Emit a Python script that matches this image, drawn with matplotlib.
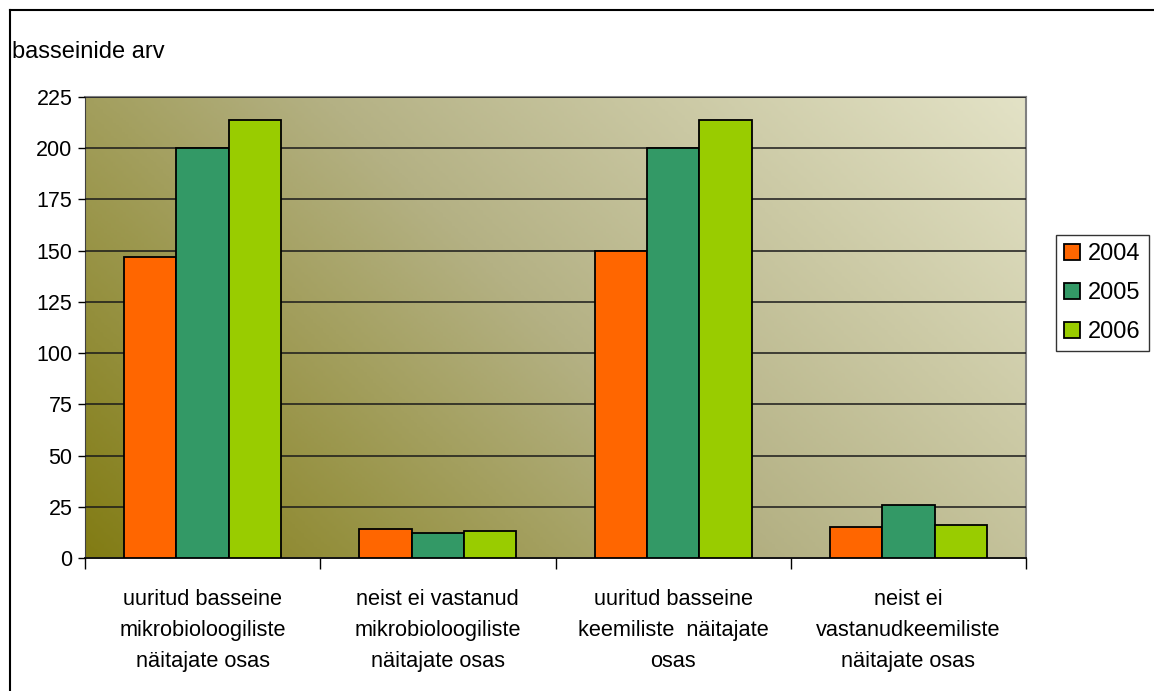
import matplotlib.pyplot as plt
import numpy as np
from matplotlib.colors import LinearSegmentedColormap
from matplotlib.lines import Line2D

plt.rcParams['font.family'] = ['Liberation Sans', 'DejaVu Sans']

categories = ['uuritud basseine\nmikrobioloogiliste\nnäitajate osas',
              'neist ei vastanud\nmikrobioloogiliste\nnäitajate osas',
              'uuritud basseine\nkeemiliste  näitajate\nosas',
              'neist ei\nvastanudkeemiliste\nnäitajate osas']
years = ['2004', '2005', '2006']
v2004 = [147, 14, 150, 15]
v2005 = [200, 12, 200, 26]
v2006 = [214, 13, 214, 16]
colors = ['#FF6600', '#339966', '#99CC00']
yticks = [0, 25, 50, 75, 100, 125, 150, 175, 200, 225]

W, H = 1154, 691
fig = plt.figure(figsize=(W / 100, H / 100), dpi=100)
ax = fig.add_axes([85 / W, (H - 558) / H, (1026 - 85) / W, (558 - 97) / H])

# diagonal gradient background (dark olive bottom-left -> light top-right)
aw, ah = 1026 - 85, 558 - 97
u = np.linspace(0, 1, 300)
v = np.linspace(0, 1, 200)
uu, vv = np.meshgrid(u, v)
t = (uu * aw + vv * ah) / (aw + ah)
cmap = LinearSegmentedColormap.from_list('bg', ['#827c14', '#b4b184', '#e3e2c6'])
ax.imshow(t, cmap=cmap, origin='lower', extent=(0, 1, 0, 1),
          transform=ax.transAxes, aspect='auto', zorder=0)

x = np.arange(len(categories))
w = 1 / 4.5
series = [v2004, v2005, v2006]
for i, vals in enumerate(series):
    ax.bar(x + (i - 1) * w, vals, width=w, color=colors[i], edgecolor='black',
           linewidth=1.3, label=years[i], zorder=3)

ax.set_xlim(-0.5, len(categories) - 0.5)
ax.set_ylim(0, 225)
ax.set_yticks(yticks)
ax.yaxis.grid(True, color='#1a1a1a', linewidth=1.1, zorder=1)
ax.set_axisbelow(False)
for line in ax.get_ygridlines():
    line.set_zorder(1)

ax.set_xticks(x)
ax.set_xticklabels(categories, fontsize=15.7, linespacing=1.65)
ax.tick_params(axis='x', which='major', length=0, pad=22)
ax.set_xticks(np.arange(len(categories) + 1) - 0.5, minor=True)
ax.tick_params(axis='x', which='minor', length=8, width=1, color='black')
ax.tick_params(axis='y', length=5, width=1, labelsize=15.5, pad=4)

for s in ['top', 'right']:
    ax.spines[s].set_color('#808080')
    ax.spines[s].set_linewidth(1.5)
ax.spines['left'].set_color('#404040')
ax.spines['bottom'].set_color('black')
ax.spines['bottom'].set_linewidth(1.3)

fig.text(12 / W, 1 - 58 / H, 'basseinide arv', fontsize=17, ha='left', va='baseline')

leg = ax.legend(loc='center left', bbox_to_anchor=(1056 / W, 1 - 293 / H),
                bbox_transform=fig.transFigure, fontsize=17, frameon=True,
                fancybox=False, edgecolor='black', handlelength=0.65,
                handleheight=0.65, handletextpad=0.35, borderpad=0.35,
                labelspacing=0.72, borderaxespad=0)
leg.get_frame().set_linewidth(1)

# chart border (only left and top visible in the crop)
fig.add_artist(Line2D([9.5 / W, 9.5 / W], [0, 1 - 10 / H], color='black',
                      linewidth=1.5, transform=fig.transFigure))
fig.add_artist(Line2D([9.5 / W, 1], [1 - 10 / H, 1 - 10 / H], color='black',
                      linewidth=1.5, transform=fig.transFigure))

fig.savefig('out.png', dpi=100)
